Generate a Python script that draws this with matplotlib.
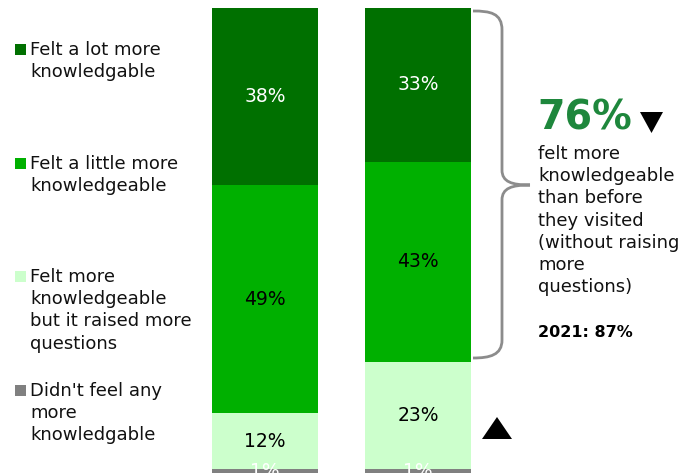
import matplotlib
matplotlib.use("Agg")
import matplotlib.pyplot as plt
from matplotlib.patches import Rectangle, Polygon, PathPatch
from matplotlib.path import Path

plt.rcParams['font.family'] = ['DejaVu Sans']

W, H = 685, 473
DPI = 100

# Data
categories = ["Felt a lot more\nknowledgable",
              "Felt a little more\nknowledgeable",
              "Felt more\nknowledgeable\nbut it raised more\nquestions",
              "Didn't feel any\nmore\nknowledgable"]
bar_a = [38, 49, 12, 1]
bar_b = [33, 43, 23, 1]
colors = ["#007000", "#00b000", "#ccffcc", "#808080"]
label_colors = ["white", "black", "black", "white"]
headline = "76%"
headline_text = ("felt more\nknowledgeable\nthan before\nthey visited\n"
                 "(without raising\nmore\nquestions)")
previous = "2021: 87%"


def fx(px):
    return px / W


def fy(py):
    return (H - py) / H


fig = plt.figure(figsize=(W / DPI, H / DPI), dpi=DPI)

# Stacked bars, stacked from the bottom category upward
ax = fig.add_axes([fx(180), fy(474), fx(500) - fx(180), fy(8) - fy(474)])
ax.set_xlim((180 - 265) / 153, (500 - 265) / 153)
ax.set_ylim(0, 100)
ax.axis("off")

bar_w = 106.5 / 153
for xi, vals in enumerate([bar_a, bar_b]):
    bottom = 0
    for k in reversed(range(len(vals))):
        v = vals[k]
        ax.bar(xi, v, width=bar_w, bottom=bottom, color=colors[k],
               edgecolor="none", linewidth=0)
        ax.text(xi, bottom + v / 2, f"{v}%", ha="center", va="center",
                color=label_colors[k], fontsize=13.5)
        bottom += v

# Legend entries
legend_rows = [44, 158, 271, 385]
for cat, col, top in zip(categories, colors, legend_rows):
    fig.patches.append(Rectangle((fx(15), fy(top + 11)), fx(11), fy(top) - fy(top + 11),
                                 transform=fig.transFigure, facecolor=col,
                                 edgecolor="none"))
    fig.text(fx(30), fy(top - 3), cat, ha="left", va="top", fontsize=13,
             linespacing=1.3, color="#111111")

# Brace around the two top segments of the second bar
verts = [(473, 11), (490, 11), (502, 13), (502, 30),
         (502, 170),
         (502, 182), (512, 185), (530, 185),
         (512, 185), (502, 188), (502, 200),
         (502, 340),
         (502, 355), (490, 358), (473, 358)]
codes = [Path.MOVETO, Path.CURVE4, Path.CURVE4, Path.CURVE4,
         Path.LINETO,
         Path.CURVE4, Path.CURVE4, Path.CURVE4,
         Path.CURVE4, Path.CURVE4, Path.CURVE4,
         Path.LINETO,
         Path.CURVE4, Path.CURVE4, Path.CURVE4]
brace = Path([(fx(x), fy(y)) for x, y in verts], codes)
fig.patches.append(PathPatch(brace, transform=fig.transFigure, facecolor="none",
                             edgecolor="#8c8c8c", linewidth=2))

# Headline figure and notes
fig.text(fx(537), fy(130), headline, ha="left", va="baseline", fontsize=28.5,
         fontweight="bold", color="#1e873c")
fig.patches.append(Polygon([(fx(640), fy(112)), (fx(663), fy(112)), (fx(651.5), fy(133))],
                           closed=True, transform=fig.transFigure, facecolor="black",
                           edgecolor="none"))
fig.text(fx(538), fy(145), headline_text, ha="left", va="top", fontsize=13,
         linespacing=1.3, color="#111111")
fig.text(fx(538), fy(337), previous, ha="left", va="baseline", fontsize=11.5,
         fontweight="bold", color="black")

# Up arrow beside the 23% segment
fig.patches.append(Polygon([(fx(482), fy(439)), (fx(512), fy(439)), (fx(497), fy(417))],
                           closed=True, transform=fig.transFigure, facecolor="black",
                           edgecolor="none"))

fig.savefig("out.png", dpi=DPI)
